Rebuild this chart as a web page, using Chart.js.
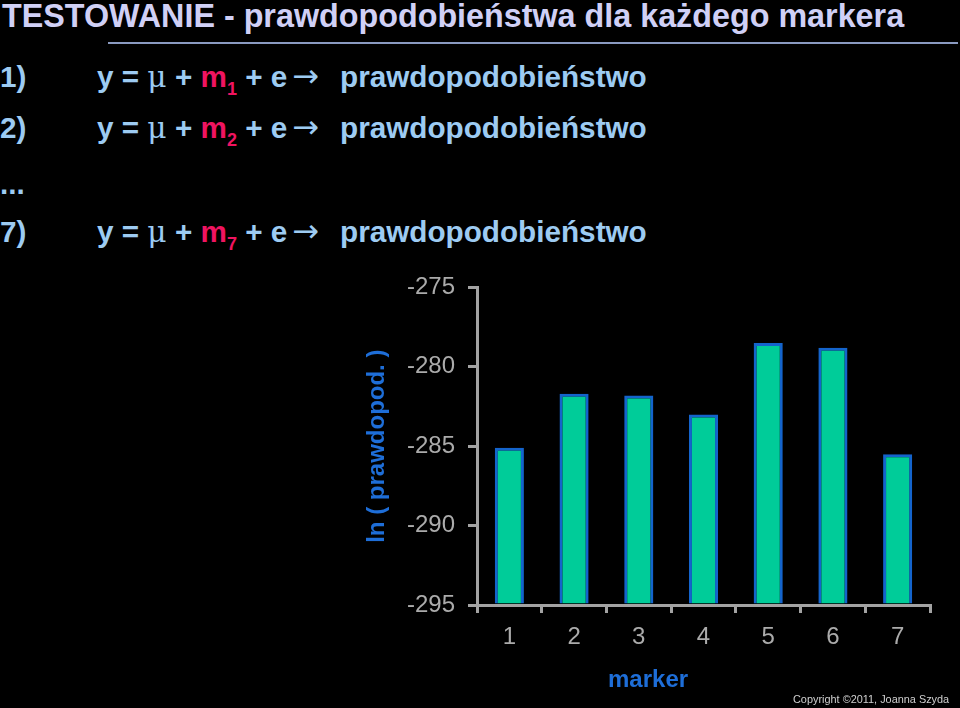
<!DOCTYPE html>
<html>
<head>
<meta charset="utf-8">
<script src="https://cdn.jsdelivr.net/npm/chart.js@4/dist/chart.umd.min.js"></script>
<style>
  html, body { margin: 0; padding: 0; background: #000; }
  body { width: 960px; height: 708px; position: relative; overflow: hidden;
         font-family: "Liberation Sans", Arial, sans-serif; }
  .t { position: absolute; white-space: pre; line-height: 1; font-weight: bold; }
  .title { left: 2px; top: 0px; font-size: 32.3px; color: #D0D0F6; }
  .rule { position: absolute; left: 108px; top: 42px; width: 850px; height: 2px; background: #8A9AC0; }
  .row { font-size: 29.7px; color: #9DCBF2; }
  .mu { font-family: "DejaVu Serif", "Liberation Serif", serif; font-weight: normal; line-height: 0; }
  .arr { font-family: "DejaVu Sans", sans-serif; font-weight: normal; font-size: 32px; margin-left: 5px; line-height: 0; }
  .m { color: #F01460; }
  .sub { font-size: 18px; position: relative; top: 8px; line-height: 0; }
  .copy { position: absolute; left: 793px; top: 693px; font-size: 10.9px; color: #CFCFCF; white-space: pre; }
  .xt { position: absolute; font-size: 24px; font-weight: bold; color: #1E6ED8; line-height: 1; }
  #box { position: absolute; left: 360px; top: 260px; width: 600px; height: 448px; }
</style>
</head>
<body>
<div class="t title">TESTOWANIE - prawdopodobieństwa dla każdego markera</div>
<div class="rule"></div>

<div class="t row" style="left:0px;top:62px">1)</div>
<div class="t row" style="left:97px;top:62px">y = <span class="mu">μ</span> + <span class="m">m<span class="sub">1</span></span> + e<span class="arr">→</span></div>
<div class="t row" style="left:340px;top:62px">prawdopodobieństwo</div>

<div class="t row" style="left:0px;top:113px">2)</div>
<div class="t row" style="left:97px;top:113px">y = <span class="mu">μ</span> + <span class="m">m<span class="sub">2</span></span> + e<span class="arr">→</span></div>
<div class="t row" style="left:340px;top:113px">prawdopodobieństwo</div>

<div class="t row" style="left:0px;top:169px">...</div>

<div class="t row" style="left:0px;top:217px">7)</div>
<div class="t row" style="left:97px;top:217px">y = <span class="mu">μ</span> + <span class="m">m<span class="sub">7</span></span> + e<span class="arr">→</span></div>
<div class="t row" style="left:340px;top:217px">prawdopodobieństwo</div>

<div id="box"><canvas id="chartCanvas" width="600" height="448"></canvas></div>
<div class="xt" style="left:608px;top:667px">marker</div>
<div class="copy">Copyright ©2011, Joanna Szyda</div>

<script>
// values
const markers = ['1', '2', '3', '4', '5', '6', '7'];
const logLik = [-285.1, -281.7, -281.8, -283.0, -278.5, -278.8, -285.5];
const yTickValues = [-295, -290, -285, -280, -275];

const axisGrey = '#A3A3A3';
const tickGrey = '#ABABAB';

function createBarChart() {

  const ctx = document.getElementById('chartCanvas').getContext('2d');

  const chartOptions = {
    type: 'bar',
    data: {
      labels: markers,
      datasets: [{
        data: logLik,
        base: yTickValues[0],
        backgroundColor: '#00CC99',
        borderColor: '#1464CC',
        borderWidth: 3,
        borderSkipped: 'start',
        barPercentage: 0.45,
        categoryPercentage: 1
      }]
    },
    options: {
      responsive: false,
      animation: false,
      layout: { padding: { top: 21, right: 30, left: 0, bottom: 0 } },
      plugins: { legend: { display: false }, tooltip: { enabled: false } },
      scales: {
        x: {
          z: 1,
          offset: true,
          grid: { offset: true, drawOnChartArea: false, drawTicks: true, tickLength: 8, color: axisGrey, lineWidth: 3 },
          border: { display: true, color: axisGrey, width: 3 },
          ticks: { color: tickGrey, padding: 10, font: { family: 'Liberation Sans', size: 24 } },
          afterFit: function (scale) { scale.height = 103; }
        },
        y: {
          z: 1,
          min: yTickValues[0],
          max: yTickValues[yTickValues.length - 1],
          afterBuildTicks: function (scale) { scale.ticks = yTickValues.map(v => ({ value: v })); },
          grid: { drawOnChartArea: false, drawTicks: true, tickLength: 9, color: axisGrey, lineWidth: 3 },
          border: { display: true, color: axisGrey, width: 3 },
          ticks: { color: tickGrey, padding: 13, font: { family: 'Liberation Sans', size: 24 } },
          title: {
            display: true,
            text: 'ln ( prawdopod. )',
            color: '#1E6ED8',
            padding: { top: 3, bottom: 0 },
            font: { family: 'Liberation Sans', size: 24, weight: 'bold' }
          },
          afterFit: function (scale) { scale.width = 117; }
        }
      }
    }
  };

  return new Chart(ctx, chartOptions);
}

const barChart = createBarChart();
</script>
</body>
</html>
